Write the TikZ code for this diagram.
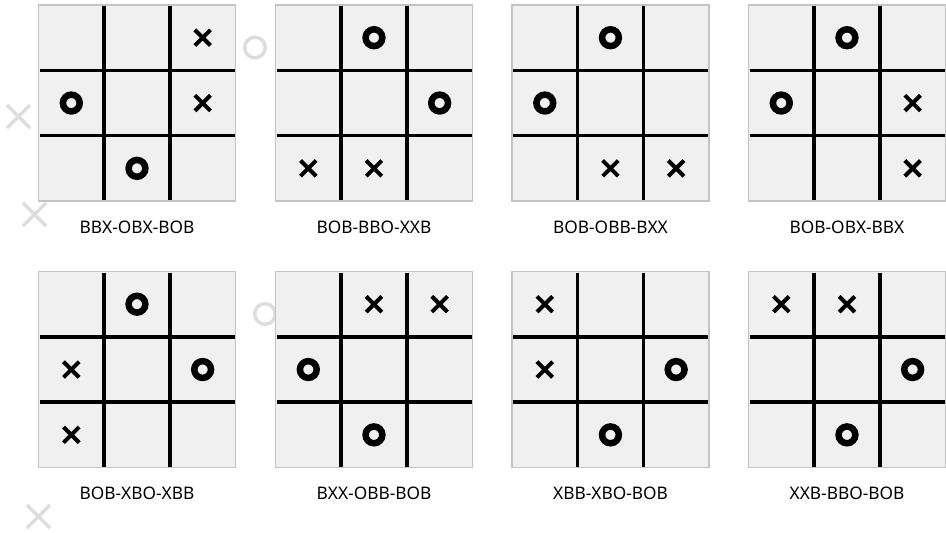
\documentclass[tikz,border=0pt]{standalone}
\usepackage{fontspec}
\setmainfont{Noto Sans}
\definecolor{cellgray}{HTML}{F0F0F0}
\definecolor{bordergray}{HTML}{C4C4C4}
\definecolor{faintgray}{HTML}{DDDDDD}

% one board: x, y (top left), node name, caption, X cells, O cells (col/row)
\newcommand{\tttboard}[6]{%
  \draw[boardbg] (#1,#2) rectangle ++(197,196);
  \foreach \k in {1,2} {
    \draw[gridline] (#1+\k*65.67,#2+1) -- ++(0,194);
    \draw[gridline] (#1+1,#2+\k*65.33) -- ++(195,0);
  }
  \foreach \c/\r in {#5}
    \draw[xmark] (#1+32.8+\c*65.67-7.8,#2+32.7+\r*65.33-7.8) -- ++(15.6,15.6)
                 (#1+32.8+\c*65.67-7.8,#2+32.7+\r*65.33+7.8) -- ++(15.6,-15.6);
  \foreach \c/\r in {#6}
    \draw[omark] (#1+32.8+\c*65.67,#2+32.7+\r*65.33) circle[radius=8.4];
  \node[caption] (#3) at (#1+98.5,#2+222) {#4};
}

\begin{document}
\begin{tikzpicture}[
x=1pt, y=-1pt,
boardbg/.style={fill=cellgray, draw=bordergray, line width=1.5pt},
gridline/.style={line width=3.5pt},
xmark/.style={line width=4pt},
omark/.style={line width=6.5pt},
faint/.style={draw=faintgray, line width=3.5pt},
caption/.style={font=\fontsize{17.3}{20}\selectfont, inner sep=0pt}
]
\useasboundingbox[fill=white] (0,0) rectangle (946,533);

% faint marks in the background
\draw[faint] (7,105) -- ++(23,23) (7,128) -- ++(23,-23);
\draw[faint] (23,203) -- ++(23,23) (23,226) -- ++(23,-23);
\draw[faint] (27,505) -- ++(23,23) (27,528) -- ++(23,-23);
\draw[faint] (255,47.5) circle[radius=10.3];
\draw[faint] (265,314) circle[radius=10.3];

% first row
\tttboard{38.5}{5}{capA}{BBX-OBX-BOB}{2/0,2/1}{0/1,1/2}
\tttboard{275.5}{5}{capB}{BOB-BBO-XXB}{0/2,1/2}{1/0,2/1}
\tttboard{512}{5}{capC}{BOB-OBB-BXX}{1/2,2/2}{1/0,0/1}
\tttboard{748.5}{5}{capD}{BOB-OBX-BBX}{2/1,2/2}{1/0,0/1}

% second row
\tttboard{38.5}{271.5}{capE}{BOB-XBO-XBB}{0/1,0/2}{1/0,2/1}
\tttboard{275.5}{271.5}{capF}{BXX-OBB-BOB}{1/0,2/0}{0/1,1/2}
\tttboard{512}{271.5}{capG}{XBB-XBO-BOB}{0/0,0/1}{2/1,1/2}
\tttboard{748.5}{271.5}{capH}{XXB-BBO-BOB}{0/0,1/0}{2/1,1/2}

\end{tikzpicture}
\end{document}
